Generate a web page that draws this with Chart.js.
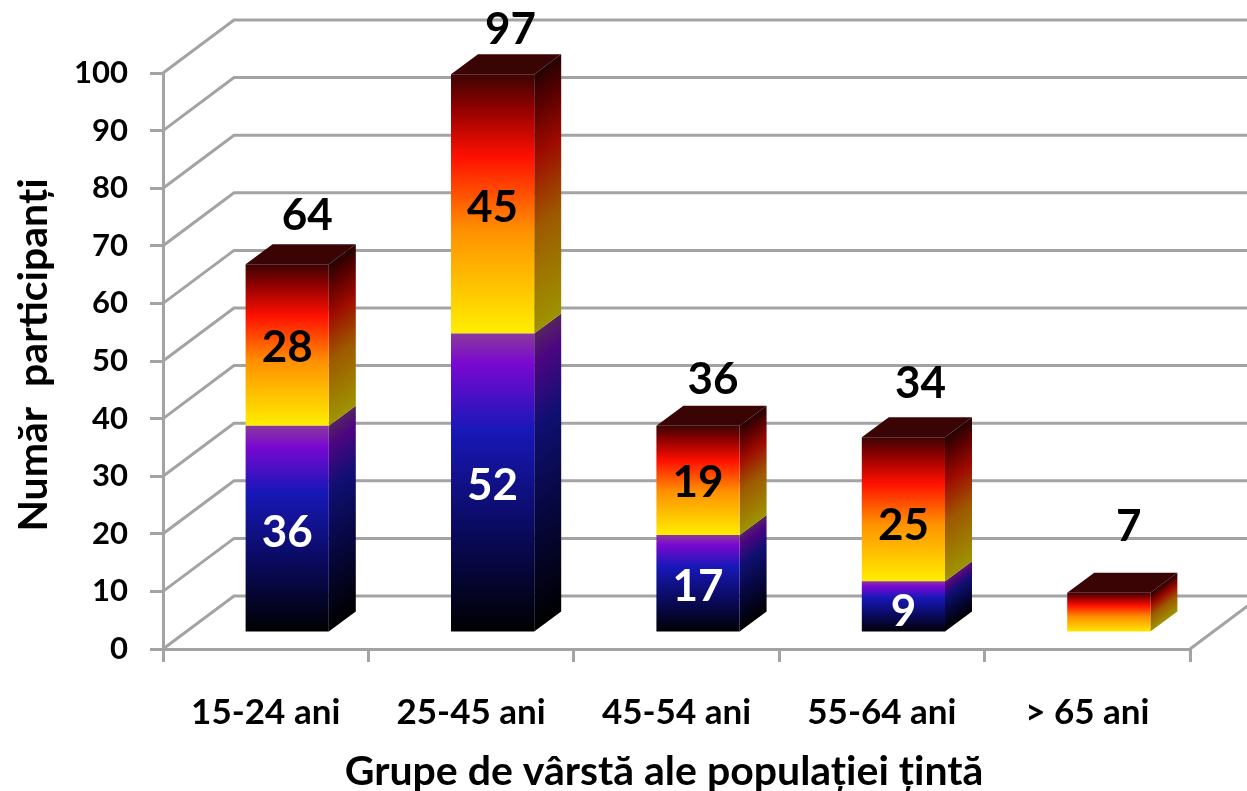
<!DOCTYPE html>
<html lang="ro">
<head>
    <meta charset="UTF-8">
    <title>Număr participanți</title>
    <script src="https://cdn.jsdelivr.net/npm/chart.js"></script>
    <style>
        html, body { margin: 0; padding: 0; background: #fff; overflow: hidden; }
        #chartContainer { width: 1247px; height: 791px; }
    </style>
</head>
<body>
<div id="chartContainer"><canvas id="chartCanvas" width="1247" height="791"></canvas></div>

<script>
    const categories = ['15-24 ani', '25-45 ani', '45-54 ani', '55-64 ani', '> 65 ani'];
    const lowerValues = [36, 52, 17, 9, 0];
    const upperValues = [28, 45, 19, 25, 7];
    const totals = [64, 97, 36, 34, 7];
    const yTicks = [0, 10, 20, 30, 40, 50, 60, 70, 80, 90, 100];
    const xTitle = 'Grupe de vârstă ale populației țintă';
    const yTitle = 'Număr  participanți';

    const FONT = 'Lato, Carlito, "Open Sans", sans-serif';
    const GRID = '#a3a3a3';
    // floor / wall depth and the offset of the bars inside it
    const WALL_DX = 71, WALL_DY = -53;
    const BAR_DX = 21.5, BAR_DY = -16;
    const DEPTH_DX = 27, DEPTH_DY = -20;
    // the labels are placed by hand in the original, so not all are centred
    const totalLift = [29, 24, 26, 33, 46];
    const totalShift = [20, 18, 15, 17, 20];
    const lowerNudge = [4, 3, 4, 5, 0];
    const upperNudge = [3, 4, 2, 17, 0];

    const lowerStops = [[0, '#000000'], [0.35, '#0a0a60'], [0.68, '#1818b8'], [0.9, '#7a08d0'], [1, '#8a3a9a']];
    const upperStops = [[0, '#ffee00'], [0.4, '#ff9000'], [0.68, '#ff1000'], [0.88, '#8a0000'], [1, '#3c0404']];
    const SIDE_SHADE = 0.62;

    function shade(hex) {
        const n = parseInt(hex.slice(1), 16);
        const c = [n >> 16, (n >> 8) & 255, n & 255].map(v => Math.round(v * SIDE_SHADE));
        return `rgb(${c[0]},${c[1]},${c[2]})`;
    }

    function frontFill(stops, startValues) {
        return (context) => {
            const yScale = context.chart.scales.y;
            if (!yScale || context.dataIndex === undefined) return stops[0][1];
            const i = context.dataIndex;
            const from = startValues ? startValues[i] : 0;
            const own = context.dataset.data[i];
            const y0 = yScale.getPixelForValue(from), y1 = yScale.getPixelForValue(from + own);
            // the scale has no pixels yet on the first pass before layout
            if (!Number.isFinite(y0) || !Number.isFinite(y1)) return stops[0][1];
            const g = context.chart.ctx.createLinearGradient(0, y0, 0, y1);
            stops.forEach(s => g.addColorStop(s[0], s[1]));
            return g;
        };
    }

    function drawSide(ctx, bar, stops) {
        if (Math.abs(bar.base - bar.y) < 0.5) return;
        const xr = bar.x + bar.width / 2 + BAR_DX;
        const yb = bar.base + BAR_DY, yt = bar.y + BAR_DY;
        const len = Math.hypot(DEPTH_DX, DEPTH_DY);
        const nx = -DEPTH_DY / len, ny = DEPTH_DX / len;
        const t = (yt - yb) * ny;
        const g = ctx.createLinearGradient(xr, yb, xr + nx * t, yb + ny * t);
        stops.forEach(s => g.addColorStop(s[0], shade(s[1])));
        ctx.fillStyle = g;
        ctx.beginPath();
        ctx.moveTo(xr, yb);
        ctx.lineTo(xr + DEPTH_DX, yb + DEPTH_DY);
        ctx.lineTo(xr + DEPTH_DX, yt + DEPTH_DY);
        ctx.lineTo(xr, yt);
        ctx.closePath();
        ctx.fill();
    }

    const depthPlugin = {
        id: 'depth',
        beforeDatasetsDraw(chart) {
            const { ctx, chartArea, scales } = chart;
            ctx.save();
            // grid: slanted floor/wall lines then the back wall
            ctx.strokeStyle = GRID;
            ctx.lineWidth = 3;
            yTicks.forEach(v => {
                const y = scales.y.getPixelForValue(v);
                ctx.beginPath();
                ctx.moveTo(chartArea.left, y);
                ctx.lineTo(chartArea.left + WALL_DX, y + WALL_DY);
                ctx.lineTo(chart.width + 10, y + WALL_DY);
                ctx.stroke();
            });
            ctx.beginPath();
            ctx.moveTo(chartArea.right, chartArea.bottom);
            ctx.lineTo(chartArea.right + WALL_DX, chartArea.bottom + WALL_DY);
            ctx.stroke();

            // side and top faces of the bars
            const lowerBars = chart.getDatasetMeta(0).data;
            const upperBars = chart.getDatasetMeta(1).data;
            categories.forEach((c, i) => {
                drawSide(ctx, lowerBars[i], lowerStops);
                drawSide(ctx, upperBars[i], upperStops);
                const b = upperBars[i];
                const xl = b.x - b.width / 2 + BAR_DX, xr = b.x + b.width / 2 + BAR_DX, yt = b.y + BAR_DY;
                ctx.fillStyle = '#3a0404';
                ctx.beginPath();
                ctx.moveTo(xl, yt);
                ctx.lineTo(xl + DEPTH_DX, yt + DEPTH_DY);
                ctx.lineTo(xr + DEPTH_DX, yt + DEPTH_DY);
                ctx.lineTo(xr, yt);
                ctx.closePath();
                ctx.fill();
            });
            ctx.restore();

            // front faces are the library's own bars, moved back into the floor
            ctx.save();
            ctx.translate(BAR_DX, BAR_DY);
        },
        afterDatasetsDraw(chart) {
            const { ctx } = chart;
            ctx.restore();

            ctx.save();
            ctx.textAlign = 'center';
            ctx.textBaseline = 'middle';
            const lowerBars = chart.getDatasetMeta(0).data;
            const upperBars = chart.getDatasetMeta(1).data;
            ctx.font = 'bold 44px ' + FONT;
            categories.forEach((c, i) => {
                if (lowerValues[i] > 0) {
                    ctx.fillStyle = '#fff';
                    ctx.fillText(lowerValues[i], lowerBars[i].x + BAR_DX, (lowerBars[i].y + lowerBars[i].base) / 2 + BAR_DY + lowerNudge[i]);
                    ctx.fillStyle = '#000';
                    ctx.fillText(upperValues[i], upperBars[i].x + BAR_DX, (upperBars[i].y + upperBars[i].base) / 2 + BAR_DY + upperNudge[i]);
                }
            });
            ctx.fillStyle = '#000';
            categories.forEach((c, i) => {
                const b = upperBars[i];
                ctx.fillText(totals[i], b.x + BAR_DX + totalShift[i], b.y + BAR_DY + DEPTH_DY - totalLift[i]);
            });

            // axis titles are off-centre in the original, so not the scale's own title
            ctx.font = 'bold 41px ' + FONT;
            ctx.fillText(xTitle, 664, 772);
            ctx.translate(34, 355);
            ctx.rotate(-Math.PI / 2);
            ctx.fillText(yTitle, 0, 0);
            ctx.restore();
        }
    };

    new Chart(document.getElementById('chartCanvas'), {
        type: 'bar',
        data: {
            labels: categories,
            datasets: [
                { label: 'lower', data: lowerValues, backgroundColor: frontFill(lowerStops, null), clip: false },
                { label: 'upper', data: upperValues, backgroundColor: frontFill(upperStops, lowerValues), clip: false }
            ]
        },
        options: {
            responsive: false,
            animation: false,
            events: [],
            layout: { padding: { top: 73, right: 57, left: 0, bottom: 0 } },
            datasets: { bar: { categoryPercentage: 1, barPercentage: 0.405 } },
            plugins: { legend: { display: false }, tooltip: { enabled: false } },
            scales: {
                x: {
                    stacked: true,
                    afterFit(scale) { scale.height = 142; },
                    border: { color: GRID, width: 3 },
                    grid: { color: GRID, lineWidth: 3, drawOnChartArea: false, tickLength: 13 },
                    ticks: { color: '#000', padding: 30, maxRotation: 0, font: { family: FONT, size: 35, weight: 'bold' } }
                },
                y: {
                    stacked: true,
                    min: 0,
                    max: 100,
                    afterFit(scale) { scale.width = 163; },
                    afterBuildTicks(scale) { scale.ticks = yTicks.map(v => ({ value: v })); },
                    border: { color: GRID, width: 3 },
                    grid: { color: GRID, lineWidth: 3, drawOnChartArea: false, tickLength: 13 },
                    ticks: { color: '#000', padding: 22, font: { family: FONT, size: 31, weight: 'bold' } }
                }
            }
        },
        plugins: [depthPlugin]
    });
</script>
</body>
</html>
